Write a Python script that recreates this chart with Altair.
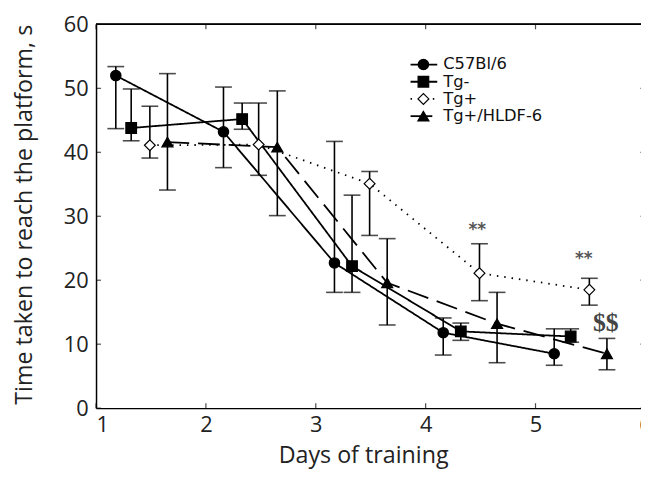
import altair as alt
import pandas as pd

groups = ["C57Bl/6", "Tg-", "Tg+", "Tg+/HLDF-6"]

c57_day = [1.18, 2.16, 3.17, 4.16, 5.17]
c57_mean = [52.0, 43.2, 22.7, 11.8, 8.5]
c57_lo = [43.7, 37.6, 18.1, 8.3, 6.7]
c57_hi = [53.4, 50.2, 41.7, 14.1, 12.4]

tgm_day = [1.32, 2.33, 3.33, 4.32, 5.32]
tgm_mean = [43.8, 45.2, 22.2, 12.0, 11.2]
tgm_lo = [41.8, 43.6, 18.1, 10.6, 10.3]
tgm_hi = [49.9, 47.7, 33.3, 13.3, 12.4]

tgp_day = [1.49, 2.48, 3.49, 4.49, 5.49]
tgp_mean = [41.1, 41.2, 35.1, 21.1, 18.5]
tgp_lo = [39.1, 36.4, 27.0, 16.8, 16.1]
tgp_hi = [47.2, 47.7, 37.0, 25.7, 20.3]

hldf_day = [1.65, 2.65, 3.65, 4.65, 5.65]
hldf_mean = [41.6, 40.8, 19.6, 13.2, 8.5]
hldf_lo = [34.1, 30.1, 13.0, 7.1, 6.0]
hldf_hi = [52.3, 49.6, 26.5, 18.1, 10.9]

ann_text = ["**", "**", "$$"]
ann_day = [4.47, 5.44, 5.64]
ann_val = [28.6, 24.1, 13.3]

x_ticks = [1, 2, 3, 4, 5, 6]
y_ticks = [0, 10, 20, 30, 40, 50, 60]

# the reference image is cropped just before day 6
X_MAX = 5.96
W, H = 551, 388

series = [
    (groups[0], c57_day, c57_mean, c57_lo, c57_hi),
    (groups[1], tgm_day, tgm_mean, tgm_lo, tgm_hi),
    (groups[2], tgp_day, tgp_mean, tgp_lo, tgp_hi),
    (groups[3], hldf_day, hldf_mean, hldf_lo, hldf_hi),
]
rows = []
for g, d, m, lo, hi in series:
    for i in range(len(d)):
        rows.append(dict(group=g, day=d[i], mean=m[i], lo=lo[i], hi=hi[i]))
df = pd.DataFrame(rows)

ann_df = pd.DataFrame({"text": ann_text, "day": ann_day, "val": ann_val})
xt_df = pd.DataFrame({"day": x_ticks})
yt_df = pd.DataFrame({"val": y_ticks})

leg_df = pd.DataFrame({"group": groups})
leg_df["ly"] = [40.6 + 17.4 * i for i in range(len(groups))]

xscale = alt.Scale(domain=[1, X_MAX], nice=False, zero=False)
yscale = alt.Scale(domain=[0, 60], nice=False, zero=True)

LBL_FONT = "Open Sans"
LBL_SIZE = 22
LBL_PAD = 7

xaxis = alt.Axis(values=x_ticks, ticks=False, grid=False, labelPadding=LBL_PAD,
                 labelFontSize=LBL_SIZE, titleX=270, titleY=55, titleBaseline="alphabetic",
                 titleAlign="center", format="d")
yaxis = alt.Axis(values=y_ticks, ticks=False, grid=False, labelPadding=8,
                 labelFontSize=LBL_SIZE, titleX=-72, titleY=192, titleAngle=270,
                 titleAlign="center", titleBaseline="middle", format="d")

XT = "Days of training"
YT = "Time taken to reach the platform, s"


def X(f):
    return alt.X(f, type="quantitative", scale=xscale, axis=xaxis, title=XT)


def Y(f):
    return alt.Y(f, type="quantitative", scale=yscale, axis=yaxis, title=YT)


dash_scale = alt.Scale(domain=groups, range=[[1, 0], [1, 0], [1.5, 6], [22, 9]])
shape_scale = alt.Scale(domain=groups, range=["circle", "square", "diamond", "triangle-up"])
fill_scale = alt.Scale(domain=groups, range=["black", "black", "white", "black"])
size_scale = alt.Scale(domain=groups, range=[110, 125, 105, 115])

lines = alt.Chart(df).mark_line(color="black", strokeWidth=1.8).encode(
    x=X("day"), y=Y("mean"),
    strokeDash=alt.StrokeDash("group:N", scale=dash_scale, legend=None),
    detail="group:N", order="day:Q",
)

err = alt.Chart(df).mark_rule(color="black", strokeWidth=1.6).encode(
    x=X("day"), y=Y("lo"), y2="hi:Q",
)
cap_lo = alt.Chart(df).mark_tick(orient="horizontal", size=17, thickness=1.6, color="black").encode(
    x=X("day"), y=Y("lo"),
)
cap_hi = alt.Chart(df).mark_tick(orient="horizontal", size=17, thickness=1.6, color="black").encode(
    x=X("day"), y=Y("hi"),
)

pts = alt.Chart(df).mark_point(filled=False, stroke="black", strokeWidth=1.2, opacity=1).encode(
    x=X("day"), y=Y("mean"),
    shape=alt.Shape("group:N", scale=shape_scale, legend=None),
    fill=alt.Fill("group:N", scale=fill_scale, legend=None),
    size=alt.Size("group:N", scale=size_scale, legend=None),
)

stars = alt.Chart(ann_df).transform_filter(alt.datum.text == "**").mark_text(
    font="DejaVu Sans", fontSize=17, fontWeight="bold", color="#555", baseline="middle", dy=5
).encode(x=X("day"), y=Y("val"), text="text:N")

dollars = alt.Chart(ann_df).transform_filter(alt.datum.text == "$$").mark_text(
    font="Liberation Serif", fontSize=26, fontWeight="bold", color="#444", baseline="middle"
).encode(x=X("day"), y=Y("val"), text="text:N")

# frame: top border line and inward ticks on all four sides
top_line = alt.Chart(xt_df).mark_rule(color="black", strokeWidth=1.5).encode(
    x=alt.datum(1), x2=alt.datum(6), y=alt.datum(60))
tick_b = alt.Chart(xt_df).mark_tick(orient="vertical", size=5, thickness=1.2, color="black").encode(
    x=X("day"), y=alt.datum(0), yOffset=alt.value(-2.5))
tick_t = alt.Chart(xt_df).mark_tick(orient="vertical", size=5, thickness=1.2, color="black").encode(
    x=X("day"), y=alt.datum(60), yOffset=alt.value(2.5))
tick_l = alt.Chart(yt_df).mark_tick(orient="horizontal", size=5, thickness=1.2, color="black").encode(
    y=Y("val"), x=alt.datum(1), xOffset=alt.value(2.5))
tick_r = alt.Chart(yt_df).mark_tick(orient="horizontal", size=5, thickness=1.2, color="black").encode(
    y=Y("val"), x=alt.datum(6), xOffset=alt.value(-2.5))
# the last x tick label lies beyond the cropped edge
last_lbl = alt.Chart(xt_df).transform_filter(alt.datum.day > X_MAX).mark_text(
    font=LBL_FONT, fontSize=LBL_SIZE, color="#222", baseline="top", dy=LBL_PAD
).encode(x=X("day"), y=alt.datum(0), text=alt.Text("day:Q", format="d"))

leg_line = alt.Chart(leg_df).mark_rule(color="black", strokeWidth=1.8).encode(
    x=alt.value(318), x2=alt.value(345),
    y=alt.Y("ly:Q", scale=None),
    strokeDash=alt.StrokeDash("group:N", scale=dash_scale, legend=None),
)
leg_pts = alt.Chart(leg_df).mark_point(filled=False, stroke="black", strokeWidth=1.2, opacity=1).encode(
    x=alt.value(331), y=alt.Y("ly:Q", scale=None),
    shape=alt.Shape("group:N", scale=shape_scale, legend=None),
    fill=alt.Fill("group:N", scale=fill_scale, legend=None),
    size=alt.Size("group:N", scale=size_scale, legend=None),
)
leg_txt = alt.Chart(leg_df).mark_text(
    font="DejaVu Sans", fontSize=16.5, align="left", baseline="middle", color="#111"
).encode(x=alt.value(351), y=alt.Y("ly:Q", scale=None), text="group:N")

chart = alt.layer(
    lines, err, cap_lo, cap_hi, pts, stars, dollars,
    top_line, tick_b, tick_t, tick_l, tick_r, last_lbl,
    leg_line, leg_pts, leg_txt,
).properties(
    width=W, height=H,
    autosize=alt.AutoSizeParams(type="none"),
    padding={"left": 89, "top": 14, "right": 0, "bottom": 60},
    background="white",
).configure_view(
    stroke=None
).configure_axis(
    domainColor="black", domainWidth=1.5,
    labelFont=LBL_FONT, labelColor="#222",
    titleFont="Open Sans", titleFontSize=23.5, titleFontWeight="normal", titleColor="#222",
)

chart.save("out.html", embed_options={"renderer": "svg", "actions": False})
